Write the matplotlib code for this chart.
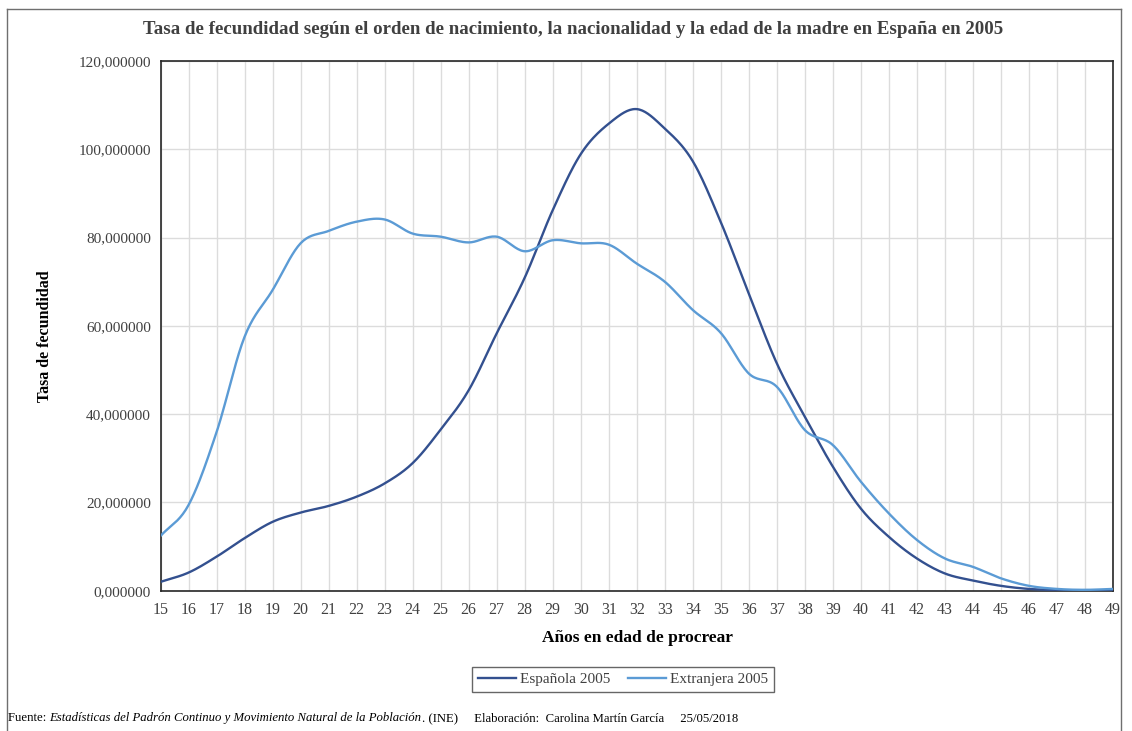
import numpy as np
import matplotlib
matplotlib.use("Agg")
import matplotlib.pyplot as plt
from matplotlib.lines import Line2D

# Fertility rate by age of the mother, Spain 2005
edades = list(range(15, 50))
espanola = [2.0, 4.1, 7.7, 11.9, 15.6, 17.7, 19.2, 21.3, 24.3, 28.9,
            36.5, 45.4, 58.3, 70.9, 86.2, 98.9, 105.8, 109.1, 104.7, 97.3,
            83.5, 67.3, 51.5, 39.4, 28.1, 18.6, 12.2, 7.3, 3.9, 2.3,
            1.1, 0.4, 0.15, 0.1, 0.1]
extranjera = [12.4, 19.4, 35.9, 57.5, 68.1, 78.7, 81.5, 83.6, 84.1, 80.9,
              80.2, 78.9, 80.2, 76.9, 79.4, 78.7, 78.4, 74.1, 70.0, 63.6,
              58.4, 49.2, 46.2, 36.4, 33.0, 24.7, 17.5, 11.5, 7.3, 5.4,
              2.8, 1.1, 0.4, 0.2, 0.4]
y_ticks = [0, 20, 40, 60, 80, 100, 120]
series_names = ["Española 2005", "Extranjera 2005"]

COL_DARK = "#33508f"
COL_LIGHT = "#5b9bd5"
TXT = "#404040"
SERIF = "Liberation Serif"


def smooth(x, y, n=20):
    """Catmull-Rom curve through the points (smoothed line style)."""
    x = np.asarray(x, float)
    y = np.asarray(y, float)
    px = np.concatenate([[2 * x[0] - x[1]], x, [2 * x[-1] - x[-2]]])
    py = np.concatenate([[2 * y[0] - y[1]], y, [2 * y[-1] - y[-2]]])
    xs, ys = [], []
    t = np.linspace(0, 1, n, endpoint=False)
    for i in range(1, len(px) - 2):
        for arr, out in ((px, xs), (py, ys)):
            p0, p1, p2, p3 = arr[i - 1], arr[i], arr[i + 1], arr[i + 2]
            out.extend(0.5 * ((2 * p1) + (-p0 + p2) * t
                              + (2 * p0 - 5 * p1 + 4 * p2 - p3) * t ** 2
                              + (-p0 + 3 * p1 - 3 * p2 + p3) * t ** 3))
    xs.append(x[-1])
    ys.append(y[-1])
    return np.array(xs), np.array(ys)


W, H = 1132, 731
fig = plt.figure(figsize=(W / 100, H / 100), dpi=100)
fig.patch.set_facecolor("white")

# outer chart frame
for (x0, y0, x1, y1) in [(7, 9, 7, H), (7, 9, 1121, 9), (1121, 9, 1121, H)]:
    fig.add_artist(Line2D([x0 / W, x1 / W], [1 - y0 / H, 1 - y1 / H],
                          color="#6f6f6f", lw=1.0, transform=fig.transFigure))

left, right, top, bottom = 160.5, 1113, 61, 590.7
ax = fig.add_axes([left / W, 1 - bottom / H, (right - left) / W, (bottom - top) / H])

xs, ys = smooth(edades, espanola)
ax.plot(xs, ys, color=COL_DARK, lw=1.7, solid_capstyle="round", zorder=3)
xs, ys = smooth(edades, extranjera)
ax.plot(xs, ys, color=COL_LIGHT, lw=1.7, solid_capstyle="round", zorder=3)

ax.set_xlim(15, 49)
ax.set_ylim(0, 120)
ax.set_xticks(edades)
ax.set_yticks(y_ticks)
ax.set_xticklabels([str(e) for e in edades], fontfamily=SERIF, fontsize=11.5, color=TXT)
ax.set_yticklabels([f"{v:.6f}".replace(".", ",") for v in y_ticks],
                   fontfamily=SERIF, fontsize=11, color=TXT)
ax.tick_params(axis="y", length=0, pad=7)
ax.tick_params(axis="x", length=0, pad=8)
ax.grid(True, color="#dcdcdc", lw=1.0)
ax.set_axisbelow(True)
for s in ax.spines.values():
    s.set_color("#262626")
    s.set_linewidth(1.2)

fig.text(573 / W, 1 - 29 / H,
         "Tasa de fecundidad según el orden de nacimiento, la nacionalidad y la edad de la madre en España en 2005",
         ha="center", va="center", fontfamily=SERIF, fontweight="bold",
         fontsize=13.6, color=TXT)
fig.text(45 / W, 1 - 336 / H, "Tasa de fecundidad", rotation=90,
         ha="center", va="center", fontfamily=SERIF, fontweight="bold",
         fontsize=11.5, color="black")
fig.text(637 / W, 1 - 638 / H, "Años en edad de procrear",
         ha="center", va="center", fontfamily=SERIF, fontweight="bold",
         fontsize=12.5, color="black")

handles = [Line2D([], [], color=COL_DARK, lw=1.7),
           Line2D([], [], color=COL_LIGHT, lw=1.7)]
leg = fig.legend(handles, series_names, loc="center",
                 bbox_to_anchor=(623 / W, 1 - 679.5 / H), ncol=2,
                 prop={"family": SERIF, "size": 11}, frameon=True,
                 fancybox=False, edgecolor="#404040", handlelength=2.5,
                 handletextpad=0.3, columnspacing=1.1, borderpad=0.35)
leg.get_frame().set_linewidth(1.0)
for t in leg.get_texts():
    t.set_color(TXT)

# footer with mixed styles, laid out piece by piece
parts = [("Fuente: ", "normal"),
         ("Estadísticas del Padrón Continuo y Movimiento Natural de la Población", "italic"),
         (". (INE)     Elaboración:  Carolina Martín García     25/05/2018", "normal")]
renderer = fig.canvas.get_renderer()
x = 8
for txt, style in parts:
    t = fig.text(x / W, 1 - 718 / H, txt, ha="left", va="center",
                 fontfamily=SERIF, fontstyle=style, fontsize=9.2, color="black")
    bb = t.get_window_extent(renderer=renderer)
    x += bb.width

fig.savefig("out.png", dpi=100)
